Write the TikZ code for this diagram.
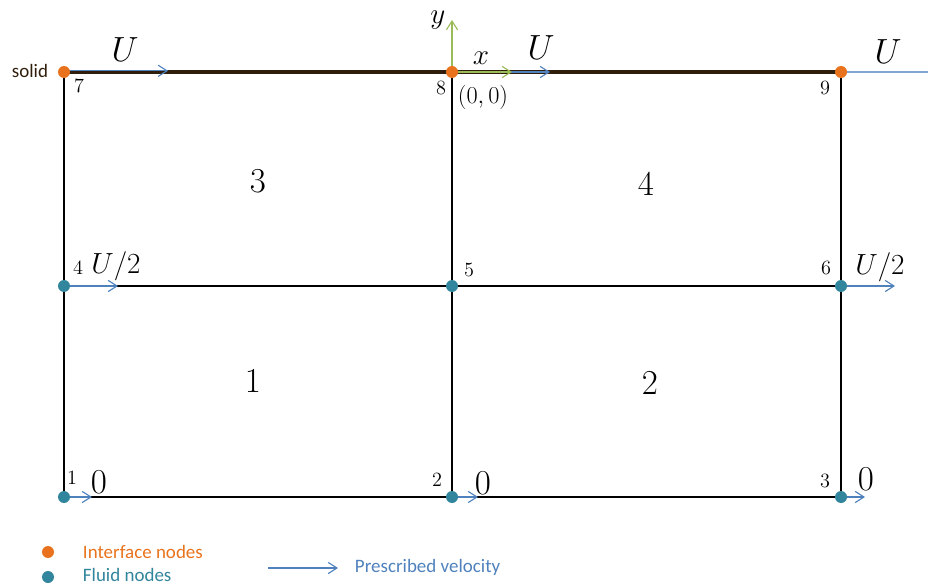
\documentclass[tikz,border=0pt]{standalone}
\usepackage{amsmath,amssymb}
\usepackage{fontspec}
\newfontfamily\legendfont{Carlito}
\usepackage{tikz}
\usetikzlibrary{arrows.meta,calc,positioning}

\definecolor{ifaceorange}{RGB}{232,115,28}
\definecolor{fluidteal}{RGB}{49,133,156}
\definecolor{velblue}{RGB}{79,129,189}
\definecolor{lightvel}{RGB}{127,167,208}
\definecolor{axisgreen}{RGB}{155,187,89}
\definecolor{solidbrown}{RGB}{48,30,12}

\begin{document}
\begin{tikzpicture}[scale=1,
  vel/.style={velblue,line width=0.8pt,-{Straight Barb[length=2.2mm,width=2.8mm]}},
  ax/.style={axisgreen,line width=0.8pt,-{Straight Barb[length=2.2mm,width=2.8mm]}},
  fluid/.style={circle,fill=fluidteal,inner sep=0pt,minimum size=3mm},
  iface/.style={circle,fill=ifaceorange,inner sep=0pt,minimum size=3mm},
  num/.style={font=\fontsize{15}{17}\selectfont},
  elem/.style={font=\fontsize{40}{44}\selectfont},
  bigU/.style={font=\fontsize{26}{30}\selectfont},
  half/.style={font=\fontsize{20}{24}\selectfont},
  leg/.style={font=\legendfont\fontsize{13.5}{15}\selectfont}]
  \useasboundingbox (0,0) rectangle (23.2,14.625);
  % grid points
  \coordinate (n1) at (1.6,2.2);
  \coordinate (n2) at (11.3,2.2);
  \coordinate (n3) at (21.025,2.2);
  \coordinate (n4) at (1.6,7.475);
  \coordinate (n5) at (11.3,7.475);
  \coordinate (n6) at (21.025,7.475);
  \coordinate (n7) at (1.6,12.825);
  \coordinate (n8) at (11.3,12.825);
  \coordinate (n9) at (21.025,12.825);
  % mesh
  \draw[line width=0.8pt] (n1) -- (n3) -- (n9);
  \draw[line width=0.8pt] (n1) -- (n7);
  \draw[line width=0.8pt] (n2) -- (n8);
  \draw[line width=0.8pt] (n4) -- (n6);
  \draw[solidbrown,line width=3.2pt] (n7) -- (n9);
  \draw[lightvel,line width=0.8pt] (n9) -- (23.2,12.825);
  % axes
  \draw[ax] (n8) -- ++(0,1.3) node[pos=1,left=1pt,black,half] {$y$};
  \draw[vel] (n8) -- ++(2.45,0);
  \draw[ax] (n8) -- ++(1.5,0);
  % prescribed velocities
  \draw[vel] ($(n7)+(0,0.03)$) -- ++(2.6,0);
  \draw[vel] (n4) -- ++(1.35,0);
  \draw[vel] (n6) -- ++(1.35,0);
  \draw[vel] (n1) -- ++(0.7,0);
  \draw[vel] (n2) -- ++(0.65,0);
  \draw[vel] (n3) -- ++(0.6,0);
  % dots
  \foreach \n in {n7,n8,n9} \node[iface] at (\n) {};
  \foreach \n in {n1,n2,n3,n4,n5,n6} \node[fluid] at (\n) {};
  % labels
  \node[bigU] (u7) at (3.125,13.375) {$U$};
  \node[bigU] (u8) at (13.525,13.425) {$U$};
  \node[bigU] (u9) at (22.2,13.325) {$U$};
  \node[half] (xl) at (12.025,13.175) {$x$};
  \node[num,font=\fontsize{17}{20}\selectfont] (orig) at (12.075,12.2) {$(0,0)$};
  \node[leg,text=solidbrown] (solid) at (0.75,12.85) {solid};
  \node[num] (l1) at (1.8,2.675) {$1$};
  \node[num] (l2) at (10.925,2.625) {$2$};
  \node[num] (l3) at (20.625,2.6) {$3$};
  \node[num] (l4) at (1.95,7.925) {$4$};
  \node[num] (l5) at (11.725,7.875) {$5$};
  \node[num] (l6) at (20.65,7.925) {$6$};
  \node[num] (l7) at (1.975,12.475) {$7$};
  \node[num] (l8) at (11.025,12.425) {$8$};
  \node[num] (l9) at (20.625,12.425) {$9$};
  \node[half] (h4) at (2.9,7.975) {$U/2$};
  \node[half] (h6) at (22.0,7.95) {$U/2$};
  \node[bigU,font=\fontsize{24}{28}\selectfont] (z1) at (2.475,2.575) {$0$};
  \node[bigU,font=\fontsize{24}{28}\selectfont] (z2) at (12.075,2.55) {$0$};
  \node[bigU,font=\fontsize{24}{28}\selectfont] (z3) at (21.65,2.65) {$0$};
  % elements
  \node[elem] (e1) at (6.325,5.1) {$1$};
  \node[elem] (e2) at (16.25,5.05) {$2$};
  \node[elem] (e3) at (6.45,10.1) {$3$};
  \node[elem] (e4) at (16.15,10.025) {$4$};
  % legend
  \node[iface] (ki) at (1.2,0.825) {};
  \node[fluid] (kf) at (1.2,0.2) {};
  \node[leg,text=ifaceorange,anchor=west] (ti) at (1.95,0.825) {Interface nodes};
  \node[leg,text=fluidteal,anchor=west] (tf) at (1.95,0.24) {Fluid nodes};
  \coordinate (ka) at (6.7,0.425);
  \draw[vel] (ka) -- ++(1.75,0);
  \node[leg,text=velblue,anchor=west] (tv) at (8.75,0.45) {Prescribed velocity};
\end{tikzpicture}
\end{document}
